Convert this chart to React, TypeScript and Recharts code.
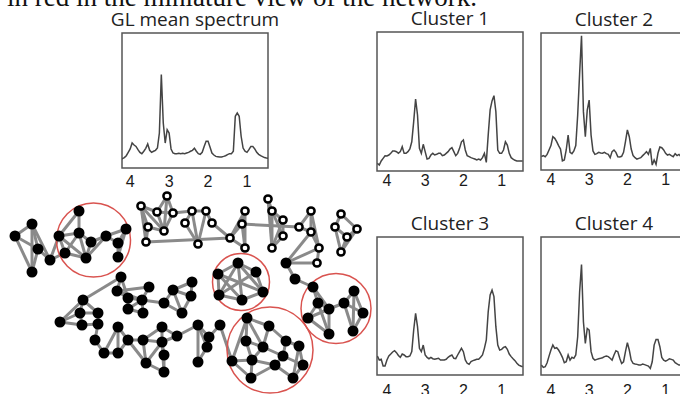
import {
    LineChart, Line, XAxis, YAxis, ReferenceArea,
    ScatterChart, Scatter, ReferenceLine, ReferenceDot
} from 'recharts';

// chemical shift axis (ppm), shared by all spectra
const ppm = [4.25, 4.2, 4.15, 4.1, 4.05, 4, 3.95, 3.9, 3.85, 3.8, 3.75, 3.7, 3.65, 3.6, 3.55, 3.5, 3.45, 3.4, 3.35, 3.3,
    3.25, 3.2, 3.15, 3.1, 3.05, 3, 2.95, 2.9, 2.85, 2.8, 2.75, 2.7, 2.65, 2.6, 2.55, 2.5, 2.45, 2.4, 2.35, 2.3,
    2.25, 2.2, 2.15, 2.1, 2.05, 2, 1.95, 1.9, 1.85, 1.8, 1.75, 1.7, 1.65, 1.6, 1.55, 1.5, 1.45, 1.4, 1.35, 1.3,
    1.25, 1.2, 1.15, 1.1, 1.05, 1, 0.95, 0.9, 0.85, 0.8, 0.75, 0.7, 0.65, 0.6, 0.55, 0.5, 0.45];

const glMean = [6.2, 6.9, 7.7, 9.1, 11.6, 14.1, 18.5, 17, 16, 13.6, 11.6, 10.6, 12.4, 14.6, 17.8, 13.1, 11.6, 12.4, 13.1, 14.8,
    25.9, 69.2, 33.3, 18.5, 28.4, 25.9, 14.1, 11.1, 10.6, 10.6, 10.9, 10.6, 10.9, 10.6, 11.1, 11.6, 12.4, 13.1, 14.6, 12.4,
    10.6, 10.1, 11.6, 16, 19.8, 19.8, 15.6, 11.1, 9.6, 8.6, 8.4, 8.2, 8.2, 8.6, 9.1, 9.9, 10.6, 10.6, 12.4, 38.3,
    40.8, 38.3, 23.5, 14.8, 12.4, 11.6, 13.6, 16, 16, 14.1, 11.6, 10.1, 9.1, 8.4, 7.7, 7.4, 7.2];

const cluster1 = [5.5, 4.3, 7.2, 9.1, 11, 10.8, 11.5, 12.7, 14.4, 14.4, 13.9, 12.7, 13.9, 17.5, 12.7, 12.7, 13.9, 15.8, 21, 35.5,
    51.8, 40.3, 16.3, 12.7, 19.2, 13.9, 8.6, 9.1, 11.5, 12.7, 11.5, 12, 12.7, 12.7, 11, 11.5, 12.7, 13.9, 15.8, 16.8,
    13.9, 11, 12.7, 16.3, 21, 22.3, 15.1, 11, 10.3, 9.6, 9.1, 8.6, 7.9, 8.6, 7.9, 9.6, 12.7, 6.2, 26, 44,
    50.4, 54.2, 42.7, 15.1, 12.7, 12.7, 15.1, 21, 18.7, 12.7, 9.6, 8.6, 7.7, 7.2, 7.2, 7.2, 7.2];

const cluster2 = [9.7, 10.5, 9.7, 11.4, 14.6, 17.8, 24.3, 23.1, 20.7, 17.8, 15.3, 6.6, 7.3, 14.6, 25.5, 12.9, 11.9, 13.9, 17.8, 40.1,
    70, 98, 42.6, 24.3, 43.8, 51, 25.5, 13.9, 11.4, 11.9, 12.9, 12.4, 12.2, 12.9, 11.9, 11.4, 9, 13.4, 14.6, 12.9,
    9.7, 9.5, 10, 12.9, 20.7, 29.2, 24.3, 15.3, 10.5, 9, 8, 8.5, 9, 10.5, 11.9, 13.4, 11.4, 15.8, 3.6, 7.3,
    4.1, 12.2, 16.8, 16.3, 14.6, 12.2, 10.9, 11.4, 10.5, 9.7, 11.9, 10.5, 11.4, 9.7, 12, 11, 10];

const cluster3 = [13.8, 10.9, 11.4, 6.5, 6.5, 10.9, 13.8, 15.2, 16.7, 17.6, 16.2, 14.2, 12.8, 15.2, 14.5, 13.3, 13.3, 13.8, 16.9, 32.6,
    44.7, 35, 19.3, 16.9, 21.7, 14.5, 12.8, 11.8, 12.8, 11.8, 11.4, 11.8, 12.1, 10.9, 10.9, 10.9, 11.4, 12.8, 13.8, 14.5,
    12.1, 11.8, 14.5, 16.9, 19.3, 16.9, 10.9, 8.5, 7.7, 9.7, 10.4, 10.9, 11.4, 11.4, 12.8, 14.5, 19.3, 25.4, 45.9, 58,
    61.6, 56.8, 35, 21.7, 18.1, 18.6, 20, 20.5, 18.6, 15.2, 13.3, 11.8, 10.4, 8.5, 7.2, 6.5, 6];

const cluster4 = [7.2, 5.5, 6, 8.9, 13.7, 18.1, 21.7, 19.3, 19.8, 18.1, 15.7, 12.8, 8.9, 9.6, 14.5, 10.8, 12.8, 12.1, 14.5, 27.7,
    60, 80, 38.6, 22.9, 33.7, 32.5, 16.9, 12.1, 10.8, 11.3, 11.8, 12.1, 12.5, 13.3, 13.7, 13.3, 12.1, 10.8, 14.5, 17.6,
    16.9, 12.1, 8.4, 9.6, 16.9, 23.4, 18.1, 10.8, 8.4, 8, 7.7, 7.2, 7.2, 8, 7.5, 7, 6.5, 4.8, 9.6, 21.7,
    25.8, 25.8, 20.5, 12.8, 10.8, 10.1, 10.8, 11.8, 11.3, 10.8, 8.9, 8, 7.2, 7.2, 7, 7, 7];

const ppmTicks = [4, 3, 2, 1];

const rows = ppm.map((p, i) => ({
    ppm: p, gl: glMean[i], c1: cluster1[i], c2: cluster2[i], c3: cluster3[i], c4: cluster4[i],
}));

// network nodes (miniature view), grouped
const leftNodes: [number, number][] = [[15, 236], [32, 224], [38, 249], [50, 260], [32, 272]];
const ringANodes: [number, number][] = [[79, 211], [59, 236], [79, 233], [65, 253], [91, 242], [86, 258], [106, 236], [126, 229], [118, 243], [118, 257]];
const hollowNodes: [number, number][] = [[141, 206], [167, 196], [157, 212], [173, 213], [148, 227], [164, 231], [146, 242], [192, 211], [206, 211], [185, 223],
    [212, 223], [198, 244], [230, 238], [245, 211], [242, 224], [245, 248], [268, 199], [272, 211], [283, 220], [283, 236],
    [272, 248], [299, 227], [311, 211], [311, 232], [319, 248], [317, 263], [341, 214], [335, 227], [357, 229], [347, 237], [341, 252]];
const linkNodes: [number, number][] = [[286, 263], [295, 279]];
const ringBNodes: [number, number][] = [[238, 263], [218, 274], [256, 272], [219, 295], [242, 300], [263, 292]];
const ringCNodes: [number, number][] = [[313, 287], [318, 303], [329, 309], [344, 303], [354, 291], [363, 313], [308, 318], [329, 334], [353, 331]];
const ringDNodes: [number, number][] = [[247, 318], [269, 326], [246, 341], [263, 347], [286, 341], [299, 346], [232, 361], [252, 360], [283, 356], [275, 365],
    [303, 365], [251, 378], [293, 378]];
const chainNodes: [number, number][] = [[121, 277], [117, 291], [128, 298], [142, 300], [149, 287], [128, 309], [143, 313], [164, 303], [173, 290], [192, 282],
    [191, 296], [182, 313], [83, 300], [80, 313], [98, 313], [82, 325], [98, 324], [60, 322], [95, 340], [104, 353],
    [118, 353], [118, 327], [128, 340], [143, 340], [162, 327], [162, 342], [146, 363], [164, 355], [164, 372], [177, 336],
    [198, 325], [209, 337], [207, 347], [198, 362], [220, 325]];

const edges: [string, string][] = [
    ['L0', 'L1'], ['L0', 'L2'], ['L0', 'L4'], ['L1', 'L2'], ['L1', 'L3'], ['L1', 'L4'], ['L2', 'L3'], ['L2', 'L4'], ['L3', 'A3'], ['L3', 'A1'],
    ['A0', 'A1'], ['A0', 'A2'], ['A1', 'A2'], ['A1', 'A3'], ['A1', 'A5'], ['A2', 'A3'], ['A2', 'A4'], ['A2', 'A5'], ['A3', 'A5'], ['A4', 'A5'],
    ['A4', 'A6'], ['A5', 'A6'], ['A6', 'A7'], ['A6', 'A8'], ['A7', 'A8'], ['A7', 'A9'], ['A8', 'A9'],
    ['H0', 'H2'], ['H0', 'H4'], ['H0', 'H5'], ['H0', 'H6'], ['H1', 'H2'], ['H1', 'H3'], ['H1', 'H5'], ['H2', 'H3'], ['H2', 'H5'], ['H3', 'H5'],
    ['H3', 'H7'], ['H4', 'H6'], ['H4', 'H5'], ['H6', 'H12'], ['H7', 'H8'], ['H7', 'H9'], ['H7', 'H11'], ['H8', 'H10'], ['H8', 'H11'], ['H9', 'H11'],
    ['H10', 'H12'], ['H12', 'H13'], ['H12', 'H14'], ['H12', 'H15'], ['H13', 'H14'], ['H13', 'H15'], ['H14', 'H15'], ['H14', 'H21'],
    ['H16', 'H17'], ['H16', 'H20'], ['H17', 'H18'], ['H17', 'H19'], ['H17', 'H20'], ['H18', 'H19'], ['H19', 'H20'], ['H18', 'H20'],
    ['H21', 'H22'], ['H21', 'H23'], ['H22', 'H23'], ['H22', 'H24'], ['H23', 'H24'], ['H24', 'H25'], ['H23', 'X0'], ['H24', 'X0'], ['H25', 'X0'],
    ['H26', 'H27'], ['H26', 'H28'], ['H27', 'H29'], ['H27', 'H30'], ['H28', 'H29'], ['H28', 'H30'], ['H29', 'H30'],
    ['X0', 'X1'], ['X1', 'C0'],
    ['B0', 'B1'], ['B0', 'B2'], ['B0', 'B3'], ['B0', 'B4'], ['B0', 'B5'], ['B1', 'B3'], ['B1', 'B4'], ['B1', 'B5'], ['B2', 'B3'], ['B2', 'B5'],
    ['B3', 'B4'], ['B4', 'B5'],
    ['C0', 'C1'], ['C0', 'C2'], ['C1', 'C2'], ['C1', 'C6'], ['C1', 'C7'], ['C2', 'C3'], ['C2', 'C6'], ['C2', 'C7'], ['C3', 'C4'], ['C3', 'C5'],
    ['C3', 'C8'], ['C4', 'C5'], ['C4', 'C8'], ['C5', 'C8'], ['C6', 'C7'],
    ['D0', 'D1'], ['D0', 'D2'], ['D0', 'D3'], ['D0', 'D6'], ['D1', 'D3'], ['D1', 'D4'], ['D2', 'D3'], ['D2', 'D7'], ['D3', 'D7'], ['D3', 'D8'],
    ['D4', 'D5'], ['D4', 'D8'], ['D5', 'D10'], ['D5', 'D12'], ['D6', 'D7'], ['D6', 'D11'], ['D7', 'D9'], ['D7', 'D11'], ['D8', 'D9'], ['D8', 'D10'],
    ['D9', 'D11'], ['D9', 'D12'], ['D10', 'D12'],
    ['K0', 'K1'], ['K0', 'K2'], ['K0', 'K12'], ['K1', 'K2'], ['K1', 'K3'], ['K1', 'K4'], ['K2', 'K3'], ['K2', 'K5'], ['K3', 'K4'], ['K3', 'K5'],
    ['K3', 'K6'], ['K3', 'K7'], ['K5', 'K6'], ['K7', 'K8'], ['K7', 'K11'], ['K8', 'K9'], ['K8', 'K10'], ['K8', 'K11'], ['K9', 'K10'], ['K10', 'K11'],
    ['K12', 'K13'], ['K12', 'K14'], ['K12', 'K17'], ['K13', 'K14'], ['K13', 'K15'], ['K13', 'K17'], ['K14', 'K16'], ['K15', 'K16'], ['K15', 'K17'],
    ['K16', 'K18'], ['K18', 'K19'], ['K19', 'K20'], ['K19', 'K21'], ['K20', 'K21'], ['K20', 'K22'], ['K21', 'K22'], ['K22', 'K23'], ['K22', 'K26'],
    ['K23', 'K24'], ['K23', 'K25'], ['K23', 'K26'], ['K24', 'K25'], ['K25', 'K26'], ['K25', 'K27'], ['K25', 'K28'], ['K26', 'K28'], ['K27', 'K28'],
    ['K24', 'K29'], ['K25', 'K29'], ['K29', 'K30'], ['K30', 'K31'], ['K30', 'K32'], ['K30', 'K33'], ['K31', 'K32'], ['K32', 'K33'], ['K31', 'K34'],
    ['K34', 'D6'],
];

// highlighted clusters: centre x, centre y, radius
const clusterRings: [number, number, number][] = [[93.5, 240, 37], [241, 282, 28.5], [336, 308.5, 35], [270, 350, 43]];

const groups: [string, [number, number][]][] = [
    ['L', leftNodes], ['A', ringANodes], ['H', hollowNodes], ['X', linkNodes],
    ['B', ringBNodes], ['C', ringCNodes], ['D', ringDNodes], ['K', chainNodes],
];
const pos: Record<string, [number, number]> = {};
groups.forEach(([g, list]) => list.forEach((p, i) => { pos[g + i] = p; }));

const solid = groups.filter(([g]) => g !== 'H').flatMap(([, list]) => list.map(([x, y]) => ({ x, y })));
const hollow = hollowNodes.map(([x, y]) => ({ x, y }));

const panels = [
    { key: 'gl', title: 'GL mean spectrum', x: 122, y: 33, h: 135, domain: [0.46, 4.21], tickGap: 8 },
    { key: 'c1', title: 'Cluster 1', x: 377, y: 32, h: 139, domain: [0.44, 4.26], tickGap: 4 },
    { key: 'c2', title: 'Cluster 2', x: 541, y: 33, h: 137, domain: [0.44, 4.26], tickGap: 4 },
    { key: 'c3', title: 'Cluster 3', x: 377, y: 237, h: 138, domain: [0.44, 4.26], tickGap: 10 },
    { key: 'c4', title: 'Cluster 4', x: 541, y: 237, h: 138, domain: [0.44, 4.26], tickGap: 10 },
];

function Spectrum({ p }: { p: typeof panels[number] }) {
    const w = 146;
    return (
        <>
            <div style={{
                position: 'absolute', left: p.x + w / 2 - 120, top: p.y - 23, width: 240, textAlign: 'center',
                fontFamily: '"Open Sans", sans-serif', fontSize: 19, lineHeight: '19px', color: '#222', whiteSpace: 'nowrap',
            }}>{p.title}</div>
            <div style={{ position: 'absolute', left: p.x - 10, top: p.y - 2 }}>
                <LineChart width={w + 20} height={p.h + 2 + 26} data={rows} margin={{ top: 2, right: 10, left: 10, bottom: 0 }}>
                    <XAxis dataKey="ppm" type="number" domain={p.domain} reversed allowDataOverflow
                        ticks={ppmTicks} height={26} axisLine={false} tickLine={false} tickSize={0} tickMargin={p.tickGap}
                        tick={{ fontFamily: '"Liberation Sans", Arial, sans-serif', fontSize: 16, fill: '#1a1a1a' }} />
                    <YAxis type="number" domain={[0, 100]} hide allowDataOverflow />
                    <ReferenceArea x1={p.domain[0]} x2={p.domain[1]} y1={0} y2={100} fill="none" fillOpacity={0}
                        stroke="#555" strokeWidth={1.5} ifOverflow="visible" />
                    <Line dataKey={p.key} type="linear" stroke="#444" strokeWidth={1.5} dot={false} isAnimationActive={false} />
                </LineChart>
            </div>
        </>
    );
}

export default function App() {
    return (
        <div style={{ position: 'absolute', left: 0, top: 0, width: 680, height: 394, overflow: 'hidden', background: '#fff' }}>
            <div style={{
                position: 'absolute', left: 7, top: -13.5, fontFamily: '"Liberation Serif", "Times New Roman", serif',
                fontSize: 27, lineHeight: '20px', color: '#111', whiteSpace: 'nowrap',
            }}>in red in the miniature view of the network.</div>

            {panels.map(p => <Spectrum key={p.key} p={p} />)}

            <div style={{ position: 'absolute', left: 0, top: 190 }}>
                <ScatterChart width={380} height={204} margin={{ top: 0, right: 0, bottom: 0, left: 0 }}>
                    <XAxis type="number" dataKey="x" domain={[0, 380]} hide />
                    <YAxis type="number" dataKey="y" domain={[190, 394]} reversed hide />
                    {edges.map(([a, b], i) => (
                        <ReferenceLine key={i} segment={[{ x: pos[a][0], y: pos[a][1] }, { x: pos[b][0], y: pos[b][1] }]}
                            stroke="#8a8a8a" strokeWidth={3} ifOverflow="visible" />
                    ))}
                    {clusterRings.map(([cx, cy, r], i) => (
                        <ReferenceDot key={'r' + i} x={cx} y={cy} r={r} fill="none" stroke="#d9534f" strokeWidth={1.5} ifOverflow="visible" />
                    ))}
                    <Scatter data={solid} isAnimationActive={false}
                        shape={(s: any) => <circle cx={s.cx} cy={s.cy} r={5.5} fill="#000" />} />
                    <Scatter data={hollow} isAnimationActive={false}
                        shape={(s: any) => <circle cx={s.cx} cy={s.cy} r={3.6} fill="#fff" stroke="#000" strokeWidth={2.5} />} />
                </ScatterChart>
            </div>
        </div>
    );
}
